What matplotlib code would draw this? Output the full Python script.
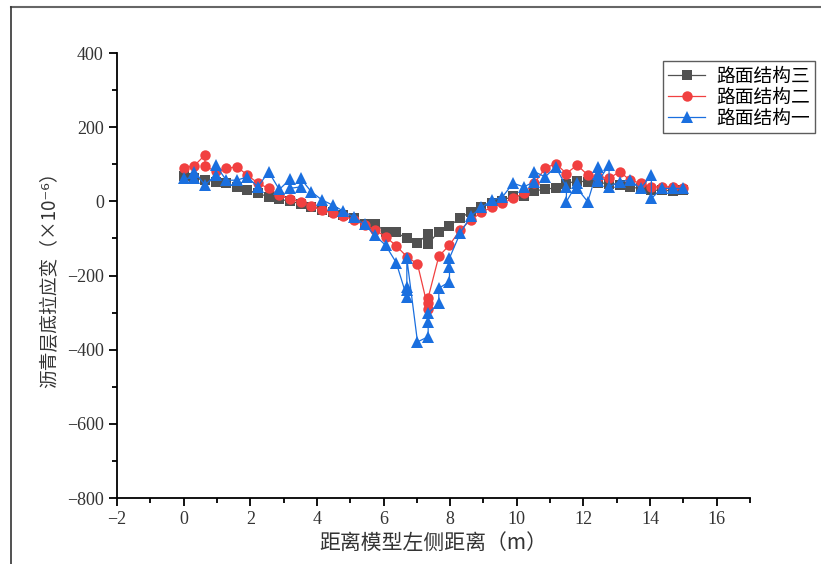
import matplotlib
matplotlib.use("Agg")
import matplotlib.pyplot as plt
from matplotlib.lines import Line2D
from matplotlib.ticker import MultipleLocator

plt.rcParams['font.family'] = ['Noto Sans CJK SC', 'DejaVu Sans']
plt.rcParams['axes.unicode_minus'] = True

# 测点位置 (m), 0 ~ 15 m, 48 个测点
x_pos = [0.00, 0.32, 0.64, 0.96, 1.28, 1.60, 1.91, 2.23, 2.55, 2.87,
         3.19, 3.51, 3.83, 4.15, 4.47, 4.79, 5.11, 5.43, 5.74, 6.06,
         6.38, 6.70, 7.02, 7.34, 7.66, 7.98, 8.30, 8.62, 8.94, 9.26,
         9.57, 9.89, 10.21, 10.53, 10.85, 11.17, 11.49, 11.81, 12.13, 12.45,
         12.77, 13.09, 13.40, 13.72, 14.04, 14.36, 14.68, 15.00]

# 每个测点的应变值 (×10^-6)，同一测点可能有多个读数
strain_3 = [[68], [62], [58], [53], [49], [38], [30], [22], [12], [6],
            [0], [-6], [-14], [-22], [-28], [-36], [-45], [-60], [-60], [-82],
            [-84], [-100], [-112], [-88, -114], [-82], [-66], [-45], [-28], [-14], [-5],
            [2], [15], [14], [28], [33], [36], [48], [55], [52], [50],
            [48], [45], [38], [35], [30], [30], [28], [30]]

strain_2 = [[90], [96], [125, 94], [82], [89], [93], [71], [49], [35], [17],
            [5], [-1], [-12], [-23], [-32], [-40], [-50], [-64], [-77], [-95],
            [-120], [-149], [-169], [-290, -275, -260], [-148], [-118], [-77], [-50], [-30], [-15],
            [-5], [8], [22], [49], [89], [102], [75], [98], [71], [65],
            [62], [80], [57], [49], [39], [39], [39], [37]]

strain_1 = [[62], [62, 80], [44], [71, 98], [57], [57], [66], [39], [80], [32],
            [59, 35], [39, 62], [26], [4], [-10], [-26], [-43], [-62], [-92], [-118],
            [-165], [-258, -240, -231, -154], [-379], [-365, -326, -302], [-275, -234],
            [-217, -176, -153], [-86], [-40], [-16], [3],
            [12], [49], [39], [53, 80], [66], [93], [39, -1], [49, 35], [-1], [93, 75, 55],
            [98, 39], [53], [57], [35], [71, 8], [35], [35], [35]]

labels = ['路面结构三', '路面结构二', '路面结构一']
colors = ['#515151', '#F14040', '#1A6FDF']
markers = ['s', 'o', '^']
msizes = [6.5, 7.5, 8]


def flatten(xs, groups):
    fx, fy = [], []
    for x, g in zip(xs, groups):
        for v in g:
            fx.append(x)
            fy.append(v)
    return fx, fy


def main():
    fig = plt.figure(figsize=(8.21, 5.64), dpi=100)
    ax = fig.add_axes([0.1425, 0.117, 0.771, 0.789])

    for data, lab, c, m, ms in zip([strain_3, strain_2, strain_1], labels, colors, markers, msizes):
        fx, fy = flatten(x_pos, data)
        ax.plot(fx, fy, color=c, marker=m, markersize=ms, linewidth=0.9,
                markeredgewidth=0, label=lab)

    ax.set_xlim(-2, 17)
    ax.set_ylim(-800, 400)
    ax.xaxis.set_major_locator(MultipleLocator(2))
    ax.xaxis.set_minor_locator(MultipleLocator(1))
    ax.yaxis.set_major_locator(MultipleLocator(200))
    ax.yaxis.set_minor_locator(MultipleLocator(100))
    ax.spines['top'].set_visible(False)
    ax.spines['right'].set_visible(False)
    for s in ['left', 'bottom']:
        ax.spines[s].set_linewidth(1.3)
    ax.tick_params(which='major', direction='out', length=6, width=1.3)
    ax.tick_params(which='minor', direction='out', length=3.5, width=1.3)
    for t in ax.get_xticklabels() + ax.get_yticklabels():
        t.set_fontfamily(['Liberation Serif', 'DejaVu Serif'])
        t.set_fontsize(13)
        t.set_color('#333333')

    ax.set_xlabel('距离模型左侧距离（m）', fontsize=15, color='#333333', labelpad=3)
    ax.set_ylabel('沥青层底拉应变（×10⁻⁶）', fontsize=13.5, color='#333333', labelpad=5)

    leg = ax.legend(loc='upper right', bbox_to_anchor=(1.103, 0.982), fontsize=13.5,
                    frameon=True, fancybox=False, edgecolor='#333333',
                    handlelength=2.0, handletextpad=0.6, borderpad=0.25,
                    labelspacing=0.0, borderaxespad=0.0)
    leg.get_frame().set_linewidth(1.0)

    # 外边框线
    fig.add_artist(Line2D([11 / 821, 1.0], [1 - 7 / 564, 1 - 7 / 564],
                          transform=fig.transFigure, color='#666666', linewidth=1.5))
    fig.add_artist(Line2D([11 / 821, 11 / 821], [0.0, 1 - 7 / 564],
                          transform=fig.transFigure, color='#333333', linewidth=1.2))

    fig.savefig('out.png', dpi=100)


if __name__ == "__main__":
    main()
